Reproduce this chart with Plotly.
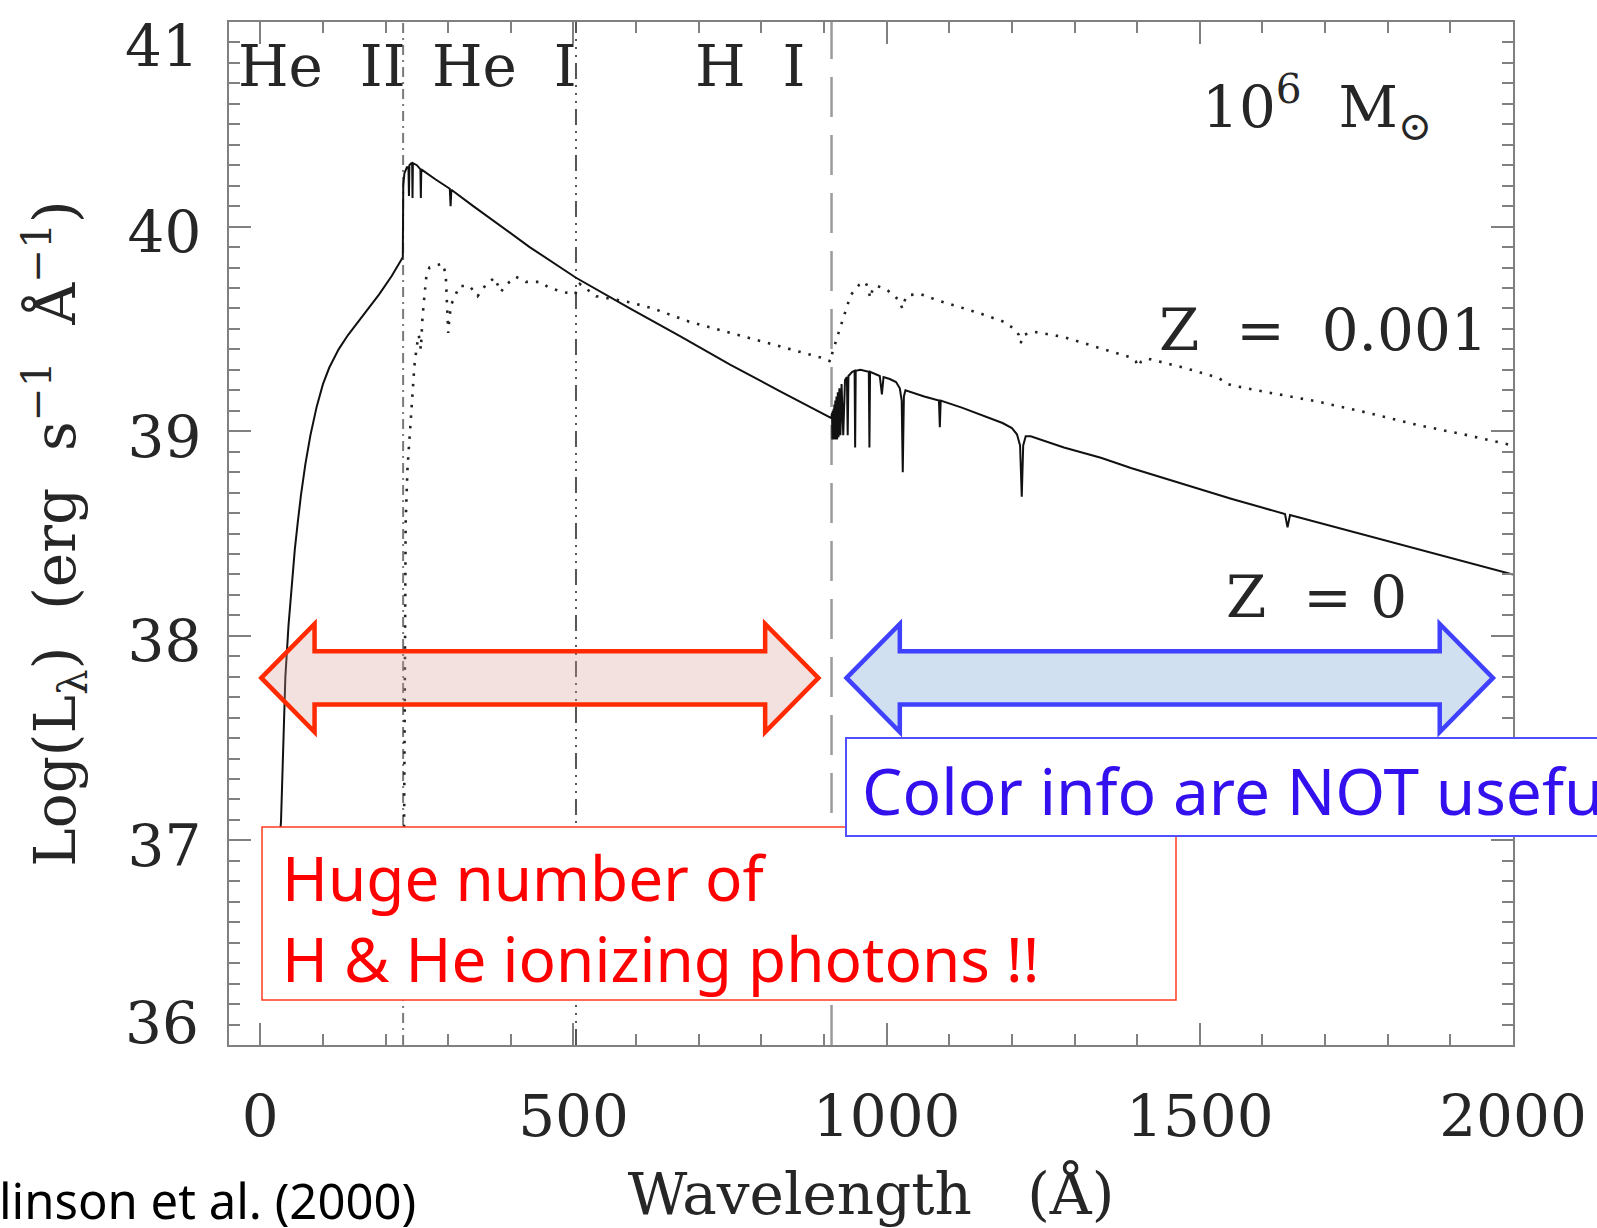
import plotly.graph_objects as go

# ---------------------------------------------------------------------------
# Synthetic spectra of a 10^6 Msun starburst (Tumlinson et al. 2000)
# wavelength in Angstrom, luminosity as log10(L_lambda / erg s^-1 A^-1)
# ---------------------------------------------------------------------------

# Z = 0 population (solid)
wave_z0 = [
    15, 25, 33, 36, 40, 45, 50, 55, 60, 65, 72, 80, 90, 100, 110,
    125, 140, 163, 190, 210, 227.5,
    228.2, 230, 234, 236.5, 237.3, 238, 241, 242.4, 243.0, 243.6, 250,
    255.6, 256.3, 257, 280, 302.5, 303.8, 305, 340, 376, 430, 504, 590,
    670, 750, 830, 911.0,
    911.8, 912.3, 912.8, 913.3, 913.9, 914.6, 915.3, 915.8, 916.5, 917.2,
    918.0, 918.9, 919.9, 920.96, 922.0, 923.15, 924.5, 926.2, 928.0, 930.7,
    933.5, 936.5, 937.8, 939.0, 945, 948.8, 949.7, 950.6, 958, 971.5,
    972.5, 973.5, 989, 992.4, 995, 1005, 1015, 1021, 1024, 1025.7, 1027.5,
    1030, 1060, 1083.5, 1084.9, 1086.3, 1120, 1150, 1185, 1200, 1208, 1213,
    1215.7, 1218, 1222, 1230, 1283, 1342, 1390, 1550, 1636, 1640, 1644,
    2000,
]
logL_z0 = [
    36.50, 36.80, 37.09, 37.45, 37.80, 38.05, 38.25, 38.42,
    38.56, 38.69, 38.84, 38.98, 39.12, 39.23, 39.31, 39.40, 39.47, 39.56,
    39.67, 39.76, 39.85,
    40.20, 40.26, 40.29, 40.29, 40.15, 40.30, 40.31, 40.31, 40.14, 40.31,
    40.30, 40.28, 40.14, 40.28, 40.23, 40.185, 40.10, 40.18, 40.10, 40.02,
    39.90, 39.75, 39.60, 39.465, 39.325, 39.195, 39.065,
    39.07, 38.97, 39.09, 38.96, 39.10, 38.96, 39.11, 38.96, 39.13, 38.96,
    39.15, 38.96, 39.17, 38.96, 39.19, 38.97, 39.21, 38.98, 39.23, 38.98,
    39.25, 39.265, 38.98, 39.27, 39.29, 39.295, 38.92, 39.295, 39.30, 39.29,
    38.92, 39.29, 39.27, 39.18, 39.265, 39.255, 39.24, 39.21, 39.15, 38.80,
    39.17, 39.20, 39.17, 39.15, 39.02, 39.15, 39.115, 39.08, 39.04, 39.015,
    38.985, 38.93, 38.68, 38.93, 38.975, 38.975, 38.92, 38.87, 38.82, 38.67,
    38.595, 38.53, 38.59, 38.30,
]

# Z = 0.001 population (dotted)
wave_z001 = [
    228.6, 229.2, 229.8, 230.5, 232, 235, 238, 242, 246, 250, 253, 256.3,
    259, 262, 265, 270, 280, 291, 296, 298.5, 300, 302, 305, 318, 334, 347,
    360, 374, 384, 392, 408, 424, 446, 462, 483, 503, 506, 510, 536, 590,
    627, 685, 751, 831, 895, 911.5, 913, 921, 929, 937, 942.5, 956, 966,
    970, 974, 978, 985, 1001, 1020, 1025, 1029, 1033, 1054, 1081, 1113,
    1150, 1187, 1206, 1211, 1214, 1218, 1235, 1283, 1337, 1390, 1398, 1402,
    1406, 1416, 1475, 1496, 1530, 1545, 1550, 1608, 1688, 1768, 1848, 1928,
    2000,
]
logL_z001 = [
    36.50, 36.90, 37.40, 38.17, 38.55, 38.82, 38.97, 39.15, 39.32, 39.42,
    39.47, 39.40, 39.56, 39.66, 39.755, 39.80, 39.81, 39.82, 39.77, 39.60,
    39.48, 39.56, 39.62, 39.71, 39.71, 39.66, 39.715, 39.75, 39.68, 39.715,
    39.755, 39.73, 39.73, 39.70, 39.68, 39.67, 39.70, 39.72, 39.66, 39.63,
    39.60, 39.535, 39.48, 39.41, 39.36, 39.34, 39.38, 39.46, 39.535, 39.61,
    39.665, 39.715, 39.73, 39.70, 39.65, 39.70, 39.71, 39.69, 39.64, 39.60,
    39.64, 39.665, 39.67, 39.64, 39.61, 39.575, 39.535, 39.495, 39.47,
    39.43, 39.47, 39.486, 39.46, 39.41, 39.36, 39.34, 39.315, 39.34, 39.355,
    39.31, 39.29, 39.26, 39.23, 39.225, 39.19, 39.145, 39.09, 39.03, 38.98,
    38.93,
]

# Ionization edges (Angstrom) and their labels
edge_names = ["He  II", "He  I", "H  I"]
edge_waves = [228, 504, 912]

# Wavelength spans marked by the double arrows
ionizing_span = [1.6, 891]
nonionizing_span = [936, 1968]
arrow_level = 37.794

x_ticks = [0, 500, 1000, 1500, 2000]
y_ticks = [36, 37, 38, 39, 40, 41]

# ---------------------------------------------------------------------------
W, H = 1597, 1228
ML, MR, MT, MB = 229, 84, 22, 183
PW, PH = W - ML - MR, H - MT - MB

def px(X):
    return (X - ML) / PW

def py(Y):
    return (H - MB - Y) / PH

SERIF = "DejaVu Serif"
HAND = "Noto Sans"
AXIS_GREY = "#808080"
INK = "#262626"

fig = go.Figure()

fig.add_trace(go.Scatter(
    x=wave_z0, y=logL_z0, mode="lines",
    line=dict(color="#111111", width=2),
    showlegend=False, hoverinfo="skip",
))
fig.add_trace(go.Scatter(
    x=wave_z001, y=logL_z001, mode="lines",
    line=dict(color="#222222", width=2.6, dash="2.5px,8px"),
    showlegend=False, hoverinfo="skip",
))

shapes = []

# vertical edge markers
edge_styles = [
    dict(color="#7a7a7a", width=2, dash="10px,5px,2px,5px"),
    dict(color="#555555", width=2, dash="16px,6px,2px,6px,2px,6px,2px,6px"),
    dict(color="#9a9a9a", width=2.5, dash="40px,18px"),
]
for wv, st in zip(edge_waves, edge_styles):
    shapes.append(dict(type="line", xref="x", yref="paper", x0=wv, x1=wv,
                       y0=0, y1=1, line=st, layer="below"))

# annotation boxes
shapes.append(dict(type="rect", xref="paper", yref="paper",
                   x0=px(262), x1=px(1176), y0=py(1000), y1=py(827),
                   fillcolor="white", line=dict(color="#ff3b1f", width=1.5),
                   layer="above"))
shapes.append(dict(type="rect", xref="paper", yref="paper",
                   x0=px(846), x1=px(1640), y0=py(836), y1=py(738),
                   fillcolor="white", line=dict(color="#5050ff", width=2),
                   layer="above"))

# double arrows
HEAD = 85.0
HEAD_HALF = 0.264
SHAFT_HALF = 0.13

def double_arrow(x0, x1, yc):
    pts = [
        (x0, yc), (x0 + HEAD, yc + HEAD_HALF), (x0 + HEAD, yc + SHAFT_HALF),
        (x1 - HEAD, yc + SHAFT_HALF), (x1 - HEAD, yc + HEAD_HALF), (x1, yc),
        (x1 - HEAD, yc - HEAD_HALF), (x1 - HEAD, yc - SHAFT_HALF),
        (x0 + HEAD, yc - SHAFT_HALF), (x0 + HEAD, yc - HEAD_HALF),
    ]
    return "M " + " L ".join(f"{a},{b}" for a, b in pts) + " Z"

shapes.append(dict(type="path", xref="x", yref="y",
                   path=double_arrow(ionizing_span[0], ionizing_span[1], arrow_level),
                   fillcolor="rgba(212,155,148,0.3)",
                   line=dict(color="#ff2a00", width=4.5), layer="above"))
shapes.append(dict(type="path", xref="x", yref="y",
                   path=double_arrow(nonionizing_span[0], nonionizing_span[1], arrow_level),
                   fillcolor="rgba(98,152,205,0.3)",
                   line=dict(color="#4040ff", width=4.5), layer="above"))

annotations = []

def label(text, X, Y, size=58, anchor="left", color=INK, family=SERIF):
    annotations.append(dict(
        text=text, xref="paper", yref="paper", x=px(X), y=py(Y),
        xanchor=anchor, yanchor="middle", showarrow=False, align="left",
        font=dict(family=family, size=size, color=color),
    ))

# edge names across the top
for name, X in zip(edge_names, [236, 430, 693]):
    label(name, X, 66)

label("10<sup>6</sup>  M<sub>⊙</sub>", 1200, 107)
label("Z  =  0.001", 1157, 330)
label("Z  = 0", 1224, 597)

label("Color info are NOT useful", 860, 790, size=64, color="#3311ee", family=HAND)
label("Huge number of<br>H &amp; He ionizing photons !!", 280, 917, size=62,
      color="#ff0000", family=HAND)
label("Tumlinson et al. (2000)", 418, 1200, size=49, anchor="right",
      color="#000000", family=HAND)

# The end labels of the luminosity axis sit just inside the frame
y_ticktext = [str(v) for v in y_ticks]
y_end_shift = {y_ticks[0]: 22, y_ticks[-1]: -24}
for v in (y_ticks[0], y_ticks[-1]):
    annotations.append(dict(
        text=str(v), xref="paper", yref="y", x=px(201), y=v,
        yshift=y_end_shift[v], xanchor="right", yanchor="middle",
        showarrow=False, font=dict(family=SERIF, size=58, color=INK),
    ))
    y_ticktext[y_ticks.index(v)] = ""

fig.update_layout(
    width=W, height=H,
    margin=dict(l=ML, r=MR, t=MT, b=MB, autoexpand=False),
    paper_bgcolor="white", plot_bgcolor="white",
    shapes=shapes, annotations=annotations,
    showlegend=False,
    xaxis=dict(
        range=[-50, 2000], tickvals=x_ticks, ticks="inside", ticklen=22,
        tickwidth=2, tickcolor=AXIS_GREY, showline=True, linecolor=AXIS_GREY,
        linewidth=2, mirror="ticks", showgrid=False, zeroline=False,
        minor=dict(dtick=100, tick0=0, ticks="inside", ticklen=11,
                   tickwidth=1.5, tickcolor=AXIS_GREY, showgrid=False),
        tickfont=dict(family=SERIF, size=58, color=INK),
        ticklabelstandoff=19, ticklabeloverflow="allow",
        title=dict(text="Wavelength   (Å)", standoff=27,
                   font=dict(family=SERIF, size=58, color=INK)),
    ),
    yaxis=dict(
        range=[36, 41], tickvals=y_ticks, ticktext=y_ticktext,
        ticks="inside", ticklen=22,
        tickwidth=2, tickcolor=AXIS_GREY, showline=True, linecolor=AXIS_GREY,
        linewidth=2, mirror="ticks", showgrid=False, zeroline=False,
        minor=dict(dtick=0.1, tick0=36, ticks="inside", ticklen=11,
                   tickwidth=1.5, tickcolor=AXIS_GREY, showgrid=False),
        tickfont=dict(family=SERIF, size=58, color=INK),
        ticklabelstandoff=14, ticklabelshift=5, ticklabeloverflow="allow",
        title=dict(text="Log(L<sub>λ</sub>)  (erg  s<sup>−1</sup>  Å<sup>−1</sup>)",
                   standoff=33,
                   font=dict(family=SERIF, size=58, color=INK)),
    ),
)

fig.write_html("out.html")
